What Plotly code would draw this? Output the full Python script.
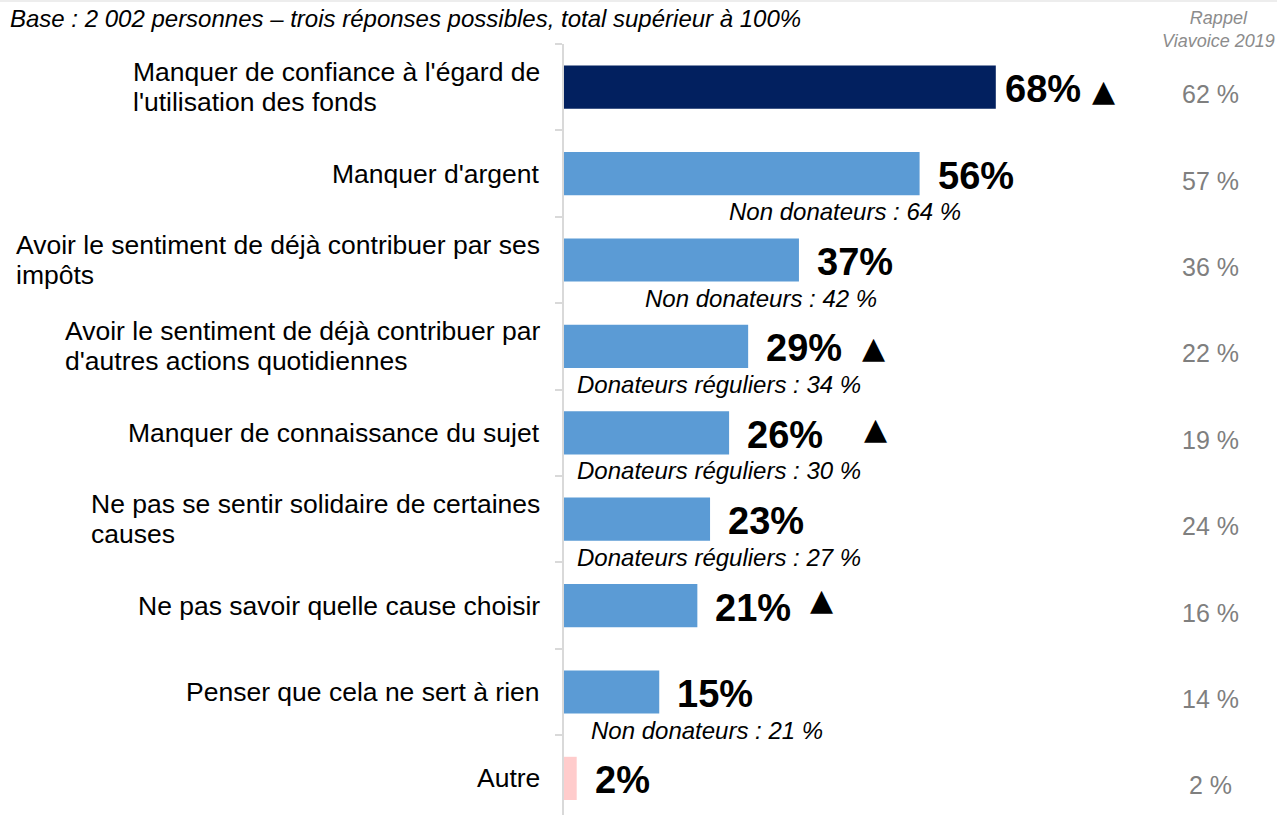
import plotly.graph_objects as go

# ---- data ----
categories = [
    "Manquer de confiance à l'égard de<br>l'utilisation des fonds",
    "Manquer d'argent",
    "Avoir le sentiment de déjà contribuer par ses<br>impôts",
    "Avoir le sentiment de déjà contribuer par<br>d'autres actions quotidiennes",
    "Manquer de connaissance du sujet",
    "Ne pas se sentir solidaire de certaines<br>causes",
    "Ne pas savoir quelle cause choisir",
    "Penser que cela ne sert à rien",
    "Autre",
]
values = [68, 56, 37, 29, 26, 23, 21, 15, 2]
rappel_2019 = [62, 57, 36, 22, 19, 24, 16, 14, 2]
up_flags = [True, False, False, True, True, False, True, False, False]
notes = [None, "Non donateurs : 64 %", "Non donateurs : 42 %",
         "Donateurs réguliers : 34 %", "Donateurs réguliers : 30 %",
         "Donateurs réguliers : 27 %", None, "Non donateurs : 21 %", None]

# ---- styles / positions ----
W, H = 1277, 815
L, T = 564, 44
PX_PER_UNIT = 6.35
ROW_PX = 86.4
plot_w = W - L
xmax = plot_w / PX_PER_UNIT
colors = ["#02205F"] + ["#5B9BD5"] * 7 + ["#FFCCCC"]
tri_offset = {0: 17.0, 3: 19.7, 4: 23.0, 6: 19.6}      # data units right of bar end
tri_yshift = {0: -3, 3: -1, 4: 4, 6: 6}
note_center_px = {1: 845, 2: 761, 3: 719, 4: 719, 5: 719, 7: 707}
label_gap = {0: 7}

FONT = "Liberation Sans, Arial, sans-serif"

fig = go.Figure()
fig.add_trace(go.Bar(
    y=categories, x=values, orientation="h",
    marker=dict(color=colors, line=dict(width=0)),
    width=0.5, hoverinfo="skip", showlegend=False,
))

annotations = []
for i, (cat, v) in enumerate(zip(categories, values)):
    annotations.append(dict(
        x=0, xref="paper", y=cat, yref="y", xanchor="right", yanchor="middle",
        xshift=-22, text=f'<span style="font-size:26.5px">{cat}</span>',
        align="left", showarrow=False,
        font=dict(family=FONT, size=23, color="#000000"),
    ))
    annotations.append(dict(
        x=v, xref="x", y=cat, yref="y", xanchor="left", yanchor="middle",
        xshift=label_gap.get(i, 16), yshift=-2, text=f"<b>{v}%</b>", showarrow=False,
        font=dict(family=FONT, size=38, color="#000000"),
    ))
    annotations.append(dict(
        x=(1210 - L) / plot_w, xref="paper", y=cat, yref="y", xanchor="center",
        yanchor="middle", yshift=-7, text=f"{rappel_2019[i]} %", showarrow=False,
        font=dict(family=FONT, size=25, color="#7F7F7F"),
    ))
    if up_flags[i]:
        annotations.append(dict(
            x=v + tri_offset[i], xref="x", y=cat, yref="y", xanchor="center",
            yanchor="middle", yshift=tri_yshift[i], text="▲", showarrow=False,
            font=dict(family="DejaVu Sans", size=30, color="#000000"),
        ))
    if notes[i]:
        annotations.append(dict(
            x=(note_center_px[i] - L) / PX_PER_UNIT, xref="x", y=cat, yref="y",
            xanchor="center", yanchor="middle", yshift=-38,
            text=f"<i>{notes[i]}</i>", showarrow=False,
            font=dict(family=FONT, size=24, color="#000000"),
        ))

annotations.append(dict(
    x=(8 - L) / plot_w, xref="paper", y=1 + (T - 19) / (H - T), yref="paper",
    xanchor="left", yanchor="middle", showarrow=False,
    text="<i>Base : 2 002 personnes – trois réponses possibles, total supérieur à 100%</i>",
    font=dict(family=FONT, size=24, color="#000000"),
))
annotations.append(dict(
    x=(1218 - L) / plot_w, xref="paper", y=1 + (T - 29) / (H - T), yref="paper",
    xanchor="center", yanchor="middle", showarrow=False, align="center",
    text="<i>Rappel<br>Viavoice 2019</i>",
    font=dict(family=FONT, size=18, color="#8C8C8C"),
))

fig.update_layout(
    width=W, height=H,
    margin=dict(l=L, r=0, t=T, b=0, pad=0),
    plot_bgcolor="white", paper_bgcolor="white",
    xaxis=dict(range=[0, xmax], visible=False, fixedrange=True),
    yaxis=dict(
        type="category", range=[-0.5 + (H - T) / ROW_PX, -0.5],
        showticklabels=False, showline=True, linecolor="#D9D9D9", linewidth=2,
        ticks="outside", tickson="boundaries", ticklen=7, tickcolor="#D9D9D9",
        tickwidth=2, showgrid=False, zeroline=False, fixedrange=True,
    ),
    annotations=annotations,
    shapes=[dict(type="line", xref="paper", yref="paper",
                 x0=-L / plot_w, x1=1.0, y0=1 + (T - 1) / (H - T), y1=1 + (T - 1) / (H - T),
                 line=dict(color="#EDEDED", width=2))],
    showlegend=False,
)

fig.write_html(
    "out.html",
    config={"displayModeBar": False},
    post_script="document.body.style.margin='0';document.body.style.overflow='hidden';",
)
